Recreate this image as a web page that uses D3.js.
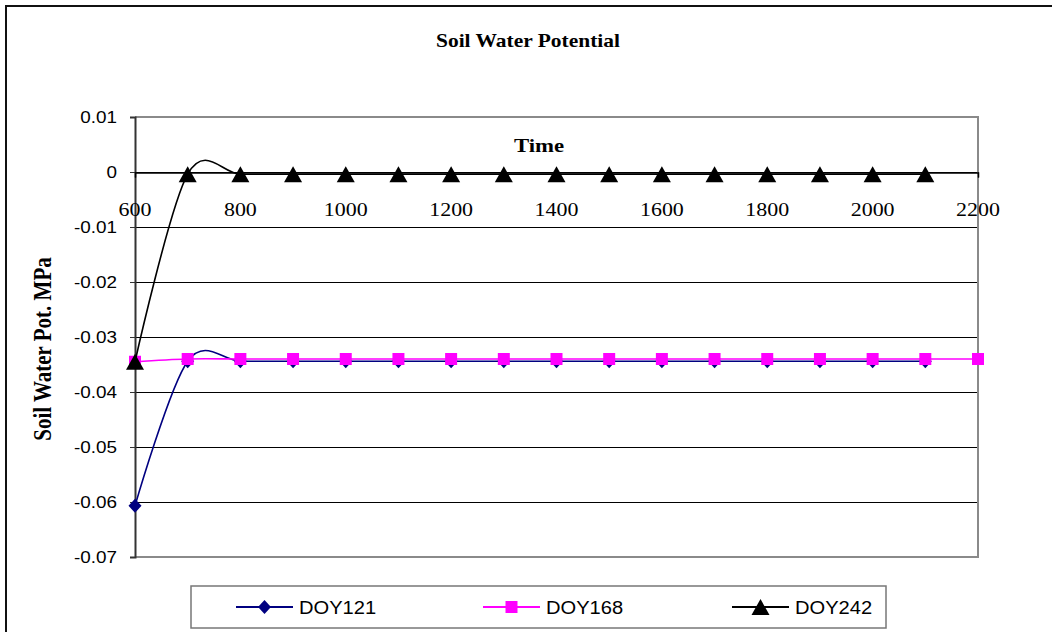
<!DOCTYPE html>
<html>
<head>
<meta charset="utf-8">
<script src="https://cdn.jsdelivr.net/npm/d3@7/dist/d3.min.js"></script>
<style>
  html, body { margin: 0; padding: 0; background: #fff; }
  svg { display: block; }
</style>
</head>
<body>
<svg id="chart" width="1052" height="632"></svg>
<script>
// Sample times (x) and soil water potential series (MPa)
const times = [600, 700, 800, 900, 1000, 1100, 1200, 1300, 1400, 1500, 1600, 1700, 1800, 1900, 2000, 2100, 2200];
const doy121 = [-0.0607, -0.0344, -0.0344, -0.0344, -0.0344, -0.0344, -0.0344, -0.0344, -0.0344, -0.0344, -0.0344, -0.0344, -0.0344, -0.0344, -0.0344, -0.0344, null];
const doy168 = [-0.0345, -0.0340, -0.0340, -0.0340, -0.0340, -0.0340, -0.0340, -0.0340, -0.0340, -0.0340, -0.0340, -0.0340, -0.0340, -0.0340, -0.0340, -0.0340, -0.0340];
const doy242 = [-0.0345, -0.0004, -0.0004, -0.0004, -0.0004, -0.0004, -0.0004, -0.0004, -0.0004, -0.0004, -0.0004, -0.0004, -0.0004, -0.0004, -0.0004, -0.0004, null];

const seriesNames = ["DOY121", "DOY168", "DOY242"];
const xTickValues = [600, 800, 1000, 1200, 1400, 1600, 1800, 2000, 2200];
const xTickLabels = ["600", "800", "1000", "1200", "1400", "1600", "1800", "2000", "2200"];
const yTickValues = [0.01, 0, -0.01, -0.02, -0.03, -0.04, -0.05, -0.06, -0.07];
const yTickLabels = ["0.01", "0", "-0.01", "-0.02", "-0.03", "-0.04", "-0.05", "-0.06", "-0.07"];

const titleText = "Soil Water Potential";
const xTitle = "Time";
const yTitle = "Soil Water Pot. MPa";

const SERIF = "'Liberation Serif', 'Times New Roman', serif";
const SANS = "'Liberation Sans', Arial, sans-serif";

const svg = d3.select("#chart");
const plot = { left: 135, right: 978, top: 117, bottom: 557 };

const x = d3.scaleLinear().domain([600, 2200]).range([plot.left, plot.right]);
const y = d3.scaleLinear().domain([-0.07, 0.01]).range([plot.bottom, plot.top]);

// Text helper: glyphs are drawn slightly widened horizontally
function label(parent, px, py, str, opt) {
  const sx = opt.sx ?? 1.2;
  const g = parent.append("g")
    .attr("transform", opt.rotate
      ? `translate(${px},${py}) rotate(${opt.rotate}) scale(1,${sx})`
      : `translate(${px},${py}) scale(${sx},1)`);
  return g.append("text")
    .attr("x", 0).attr("y", 0)
    .attr("dy", opt.dy ?? 0)
    .attr("text-anchor", opt.anchor ?? "middle")
    .attr("font-family", opt.family)
    .attr("font-size", opt.size)
    .attr("font-weight", opt.weight ?? "normal")
    .attr("fill", "#000")
    .text(str);
}

// Outer chart frame
svg.append("rect")
  .attr("x", 6).attr("y", 6).attr("width", 1070).attr("height", 650)
  .attr("fill", "#fff").attr("stroke", "#111").attr("stroke-width", 2);

// Horizontal gridlines
svg.append("g").selectAll("line")
  .data(yTickValues.filter(v => v < 0.009 && v > -0.069))
  .join("line")
  .attr("x1", plot.left).attr("x2", plot.right)
  .attr("y1", d => Math.round(y(d)) + 0.5).attr("y2", d => Math.round(y(d)) + 0.5)
  .attr("stroke", "#000").attr("stroke-width", 1);

// Plot-area border (top, right, bottom)
svg.append("path")
  .attr("d", `M${plot.left},${plot.top}H${plot.right}V${plot.bottom}H${plot.left}`)
  .attr("fill", "none").attr("stroke", "#8a8a8a").attr("stroke-width", 2);

// Y axis
const yAxis = d3.axisLeft(y).tickValues(yTickValues).tickSize(5).tickFormat("");
const yAxisG = svg.append("g").attr("transform", `translate(${plot.left},0)`).call(yAxis);
yAxisG.select(".domain").attr("stroke", "#333").attr("stroke-width", 2);
yAxisG.selectAll(".tick line").attr("stroke", "#333").attr("stroke-width", 1);
yTickValues.forEach((v, i) => {
  label(svg, plot.left - 18, y(v), yTickLabels[i], { family: SANS, size: 16, anchor: "end", dy: "0.36em", sx: 1.18 });
});

// X axis sits on y = 0
const xAxis = d3.axisBottom(x).tickValues(xTickValues).tickSize(5).tickFormat("");
const xAxisG = svg.append("g").attr("transform", `translate(0,${Math.round(y(0)) + 0.5})`).call(xAxis);
xAxisG.select(".domain").attr("stroke", "#000").attr("stroke-width", 1.5);
xAxisG.selectAll(".tick line").attr("stroke", "#000");
xTickValues.forEach((v, i) => {
  label(svg, x(v), 216, xTickLabels[i], { family: SERIF, size: 18, anchor: "middle", sx: 1.22 });
});

// Titles
label(svg, 528, 47, titleText, { family: SERIF, size: 19, weight: "bold", sx: 1.13 });
label(svg, 539, 152, xTitle, { family: SERIF, size: 19, weight: "bold", sx: 1.2 });
label(svg, 51, 349, yTitle, { family: SERIF, size: 21, weight: "bold", rotate: -90, sx: 1.15 });

// Series
const colors = ["#000080", "#ff00ff", "#000000"];
const seriesValues = [doy121, doy168, doy242];

function markerPath(i, cx, cy) {
  if (i === 0) { // diamond
    const r = 7;
    return `M${cx},${cy - r}L${cx + r - 0.5},${cy}L${cx},${cy + r}L${cx - r + 0.5},${cy}Z`;
  }
  if (i === 1) { // square
    const h = 6;
    return `M${cx - h},${cy - h}H${cx + h}V${cy + h}H${cx - h}Z`;
  }
  const w = 9, t = 9, b = 7; // triangle
  return `M${cx},${cy - t}L${cx + w},${cy + b}L${cx - w},${cy + b}Z`;
}

// Smoothed series lines
const line = d3.line()
  .defined(d => d[1] !== null)
  .x(d => x(d[0])).y(d => y(d[1]))
  .curve(d3.curveCardinal.tension(0));

seriesValues.forEach((vals, i) => {
  const pts = times.map((t, k) => [t, vals[k]]).filter(d => d[1] !== null);
  const g = svg.append("g");
  g.append("path")
    .datum(pts)
    .attr("d", line)
    .attr("fill", "none")
    .attr("stroke", colors[i])
    .attr("stroke-width", 1.6);
  g.selectAll("path.m")
    .data(pts)
    .join("path")
    .attr("class", "m")
    .attr("d", d => markerPath(i, x(d[0]), y(d[1]) + (i === 2 ? 1 : 0)))
    .attr("fill", colors[i]);
});

// Legend
const legend = { left: 191, top: 586, right: 886, bottom: 628 };
svg.append("rect")
  .attr("x", legend.left).attr("y", legend.top)
  .attr("width", legend.right - legend.left).attr("height", legend.bottom - legend.top)
  .attr("fill", "#fff").attr("stroke", "#777").attr("stroke-width", 1.5);

const legendX = [236, 483, 732];
const ly = (legend.top + legend.bottom) / 2;
seriesNames.forEach((name, i) => {
  const lx = legendX[i];
  svg.append("line")
    .attr("x1", lx).attr("x2", lx + 57)
    .attr("y1", ly).attr("y2", ly)
    .attr("stroke", colors[i]).attr("stroke-width", 2);
  svg.append("path")
    .attr("d", markerPath(i, lx + 28.5, ly + (i === 2 ? 1 : 0)))
    .attr("fill", colors[i]);
  label(svg, lx + 63, ly, name, { family: SANS, size: 19, anchor: "start", dy: "0.36em", sx: 1.06 });
});
</script>
</body>
</html>
